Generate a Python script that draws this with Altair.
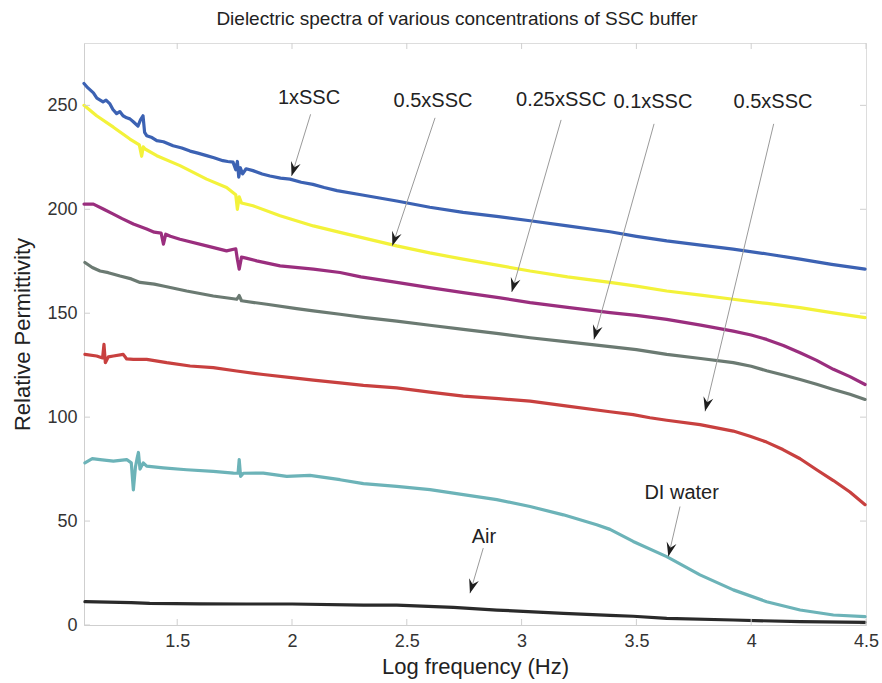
import altair as alt
import pandas as pd

# ---------------- data ----------------
series_names = ["1xSSC", "0.5xSSC", "0.25xSSC", "0.1xSSC", "0.05xSSC", "DI water", "Air"]
series_colors = ["#3c62b3", "#f3f23a", "#9a2e7e", "#6b7a72", "#c8403f", "#6cb3b8", "#2a2a2a"]

blue_x = [1.094, 1.11, 1.135, 1.15, 1.177, 1.19, 1.207, 1.22, 1.236, 1.25, 1.264, 1.28, 1.294, 1.31, 1.329, 1.340, 1.351, 1.358, 1.367, 1.39,
          1.411, 1.44, 1.482, 1.52, 1.556, 1.59, 1.628, 1.66, 1.699, 1.72, 1.743, 1.755, 1.762, 1.768, 1.775, 1.785, 1.80, 1.830, 1.87, 1.904,
          1.95, 1.991, 2.04, 2.091, 2.14, 2.196, 2.3, 2.456, 2.6, 2.745, 2.9, 3.037, 3.2, 3.385, 3.5, 3.632, 3.78, 3.921, 4.07, 4.213, 4.35, 4.496]
blue_y = [260.5, 258.5, 256, 253.5, 251.7, 252.5, 250.7, 248, 246, 247, 245, 244, 243.5, 242, 240, 243, 245, 237, 235.4, 234.5,
          233, 232.5, 230.6, 229.5, 228, 227, 225.8, 224.8, 223.4, 223, 222.7, 219, 223, 215.5, 220, 217, 219.5, 218.6, 217, 216,
          215, 214.5, 213, 212, 210.5, 209, 207, 204, 201, 198.5, 196.5, 194.5, 192, 189.2, 187, 184.8, 182.8, 180.8, 178.5, 176, 173.5, 171.2]

yellow_x = [1.094, 1.149, 1.222, 1.294, 1.335, 1.345, 1.352, 1.36, 1.411, 1.512, 1.628, 1.715, 1.755, 1.762, 1.770, 1.780, 1.830, 1.948,
            2.093, 2.209, 2.3, 2.456, 2.6, 2.745, 2.9, 3.037, 3.2, 3.385, 3.5, 3.632, 3.78, 3.921, 4.07, 4.213, 4.35, 4.496]
yellow_y = [250, 245, 239.5, 233.8, 231, 225.5, 230, 229, 225.8, 221, 214.5, 210.5, 207, 200, 206, 203, 201.7, 196.9,
            192, 188.9, 186.5, 182.4, 179, 176, 173, 170.3, 167.5, 164.8, 163, 160.7, 158.7, 156.7, 154.7, 152.7, 150.3, 147.9]

purple_x = [1.094, 1.135, 1.18, 1.222, 1.26, 1.309, 1.367, 1.40, 1.43, 1.44, 1.45, 1.47, 1.512, 1.628, 1.715, 1.755, 1.762, 1.770, 1.780, 1.80,
            1.846, 1.948, 2.093, 2.209, 2.3, 2.456, 2.6, 2.746, 2.9, 3.037, 3.2, 3.385, 3.5, 3.632, 3.78, 3.922, 4.0, 4.067, 4.14, 4.213,
            4.285, 4.358, 4.43, 4.496]
purple_y = [202.5, 202.5, 200, 197.7, 195.5, 192.9, 190.5, 189, 188.5, 183.2, 188, 187, 185.6, 182.4, 180, 181, 176, 171.2, 177, 176.5,
            175.2, 172.8, 171.2, 169.6, 167.5, 164.8, 162.3, 159.9, 157.5, 155.1, 152.8, 150.3, 149, 147, 144.3, 141.4, 139.5, 137.4, 134.5, 131,
            127.3, 123, 119.5, 115.7]

grey_x = [1.098, 1.13, 1.164, 1.20, 1.251, 1.30, 1.338, 1.40, 1.439, 1.541, 1.657, 1.760, 1.770, 1.780, 1.890, 2.020, 2.093, 2.209, 2.311, 2.456,
          2.6, 2.746, 2.9, 3.037, 3.2, 3.385, 3.5, 3.632, 3.78, 3.922, 4.0, 4.067, 4.14, 4.213, 4.285, 4.358, 4.43, 4.496]
grey_y = [174.4, 172, 170.3, 169.5, 167.9, 166.5, 164.8, 164, 163.1, 160.7, 158.3, 156.7, 158.5, 156, 154.3, 152.2, 151.1, 149.5, 148, 146.2,
          144.2, 142.2, 140.2, 138.2, 136.2, 133.9, 132.5, 130.2, 128.2, 126.2, 124.5, 122.3, 120.3, 118.1, 115.8, 113.3, 111, 108.5]

red_x = [1.098, 1.149, 1.175, 1.181, 1.187, 1.20, 1.222, 1.265, 1.28, 1.309, 1.367, 1.454, 1.556, 1.657, 1.759, 1.875, 2.006, 2.093, 2.209, 2.311,
         2.456, 2.6, 2.746, 2.9, 3.037, 3.2, 3.385, 3.486, 3.559, 3.632, 3.777, 3.922, 3.995, 4.067, 4.138, 4.213, 4.285, 4.358, 4.43, 4.496]
red_y = [130.2, 129.4, 128.5, 135, 126.2, 129, 129.4, 130.2, 128, 127.8, 127.8, 126.2, 124.6, 123.8, 122.2, 120.5, 118.9, 117.8, 116.5, 115.3,
         114.1, 112, 110.1, 108.9, 107.7, 105.3, 102.6, 101.2, 99.7, 98.5, 96.4, 93.3, 90.8, 88, 84.4, 80, 74.7, 69.5, 64, 57.9]

teal_x = [1.098, 1.13, 1.164, 1.222, 1.280, 1.30, 1.309, 1.318, 1.325, 1.331, 1.338, 1.352, 1.367, 1.439, 1.541, 1.657, 1.745, 1.765, 1.770, 1.776,
          1.788, 1.875, 1.977, 2.078, 2.209, 2.311, 2.456, 2.601, 2.746, 2.892, 3.037, 3.182, 3.327, 3.385, 3.486, 3.632, 3.777, 3.922, 4.067, 4.213,
          4.358, 4.496]
teal_y = [78, 80, 79.6, 78.8, 79.6, 78, 65, 76, 80, 83, 75, 78, 76.4, 75.6, 74.7, 73.9, 73.1, 73, 79.6, 71.5,
          73, 73.1, 71.5, 72, 69.9, 68, 66.7, 65.1, 62.7, 60.3, 57, 53, 48.2, 46, 40.2, 32.9, 24.1, 16.9, 11.2, 7.2,
          4.8, 4]

air_x = [1.098, 1.30, 1.38, 1.6, 1.8, 2.0, 2.311, 2.456, 2.703, 2.892, 3.182, 3.385, 3.486, 3.632, 3.922, 4.213, 4.496]
air_y = [11.2, 10.8, 10.4, 10.2, 10.1, 10.1, 9.6, 9.6, 8.5, 7.2, 5.6, 4.6, 4.2, 3.2, 2.4, 1.6, 1.3]

# annotations: label text, label position, leader start, arrow tip, arrow angle
ann_text = ["1xSSC", "0.5xSSC", "0.25xSSC", "0.1xSSC", "0.5xSSC", "DI water", "Air"]
ann_tx = [2.074, 2.614, 3.172, 3.572, 4.095, 3.697, 2.836]
ann_ty = [253.6, 252.2, 252.7, 251.7, 251.7, 63.6, 42.4]
ann_sx = [2.081, 2.623, 3.172, 3.577, 4.098, 3.690, 2.833]
ann_sy = [245.7, 244.0, 243.0, 241.1, 241.1, 57.0, 37.0]
ann_ex = [1.998, 2.437, 2.957, 3.315, 3.799, 3.639, 2.775]
ann_ey = [216.0, 182.4, 160.2, 137.4, 102.8, 32.9, 15.3]
ann_ang = [17.4, 18.5, 16.0, 15.6, 13.5, 13.2, 16.5]

x_ticks = [1.5, 2, 2.5, 3, 3.5, 4, 4.5]
y_ticks = [0, 50, 100, 150, 200, 250]

# ---------------- tables ----------------
all_x = [blue_x, yellow_x, purple_x, grey_x, red_x, teal_x, air_x]
all_y = [blue_y, yellow_y, purple_y, grey_y, red_y, teal_y, air_y]
rows = []
for name, xs, ys in zip(series_names, all_x, all_y):
    for i, (xv, yv) in enumerate(zip(xs, ys)):
        rows.append({"series": name, "i": i, "x": xv, "y": yv})
df = pd.DataFrame(rows)

ann = pd.DataFrame({"text": ann_text, "tx": ann_tx, "ty": ann_ty, "sx": ann_sx, "sy": ann_sy,
                    "ex": ann_ex, "ey": ann_ey, "ang": ann_ang})
xt = pd.DataFrame({"v": x_ticks})
yt = pd.DataFrame({"v": y_ticks})

W, H = 782, 582
FONT = "Liberation Sans"
xscale = alt.Scale(domain=[1.094, 4.5], nice=False, zero=False)
yscale = alt.Scale(domain=[0, 280], nice=False, zero=False)

lines = alt.Chart(df).mark_line(strokeWidth=3.2, strokeJoin="round", strokeCap="round").encode(
    x=alt.X("x:Q", scale=xscale,
            axis=alt.Axis(values=x_ticks, format="~g", title="Log frequency (Hz)", ticks=False,
                          labelFlush=False, labelOverlap=False, labelPadding=7, labelFontSize=18,
                          labelFont=FONT, labelColor="#333333", domainColor="#cfcfcf",
                          titleFont=FONT, titleFontSize=22, titleFontWeight="normal", titleColor="#222222",
                          titleX=W / 2, titleY=41, titleBaseline="middle", titleAlign="center", grid=False)),
    y=alt.Y("y:Q", scale=yscale,
            axis=alt.Axis(values=y_ticks, title="Relative Permittivity", ticks=False,
                          labelPadding=7, labelFontSize=18, labelFont=FONT, labelColor="#333333",
                          domainColor="#cfcfcf", titleFont=FONT, titleFontSize=22, titleFontWeight="normal",
                          titleColor="#222222", titleAngle=270, titleX=-62, titleY=291,
                          titleBaseline="middle", titleAlign="center", grid=False)),
    color=alt.Color("series:N", scale=alt.Scale(domain=series_names, range=series_colors), legend=None),
    detail="series:N",
    order="i:Q",
)

tick_col = "#cfcfcf"
xticks_bottom = alt.Chart(xt).mark_rule(color=tick_col, strokeWidth=1).encode(
    x=alt.X("v:Q", scale=xscale), y=alt.value(H), y2=alt.value(H - 6))
xticks_top = alt.Chart(xt).mark_rule(color=tick_col, strokeWidth=1).encode(
    x=alt.X("v:Q", scale=xscale), y=alt.value(0), y2=alt.value(6))
yticks_left = alt.Chart(yt).mark_rule(color=tick_col, strokeWidth=1).encode(
    y=alt.Y("v:Q", scale=yscale), x=alt.value(0), x2=alt.value(6))
yticks_right = alt.Chart(yt).mark_rule(color=tick_col, strokeWidth=1).encode(
    y=alt.Y("v:Q", scale=yscale), x=alt.value(W), x2=alt.value(W - 6))

leaders = alt.Chart(ann).mark_rule(color="#9a9a9a", strokeWidth=1).encode(
    x=alt.X("sx:Q", scale=xscale), y=alt.Y("sy:Q", scale=yscale),
    x2="ex:Q", y2="ey:Q")

arrow_path = "M0,0 L-0.6,-1.7 L0,-1.1 L0.6,-1.7 Z"
heads = alt.Chart(ann).mark_point(shape=arrow_path, filled=True, color="#1e1e1e", opacity=1, size=280).encode(
    x=alt.X("ex:Q", scale=xscale), y=alt.Y("ey:Q", scale=yscale),
    angle=alt.Angle("ang:Q", scale=None))

labels = alt.Chart(ann).mark_text(font=FONT, fontSize=20, color="#222222", baseline="middle", align="center").encode(
    x=alt.X("tx:Q", scale=xscale), y=alt.Y("ty:Q", scale=yscale), text="text:N")

chart = alt.layer(lines, xticks_bottom, xticks_top, yticks_left, yticks_right, leaders, heads, labels).properties(
    width=W, height=H,
    title=alt.TitleParams("Dielectric spectra of various concentrations of SSC buffer", font=FONT, fontSize=19,
                          fontWeight="normal", color="#222222", anchor="middle", dx=-18, offset=14),
    autosize=alt.AutoSizeParams(type="none"),
    padding={"left": 84, "top": 43, "right": 16, "bottom": 58},
).configure_view(stroke="#d4d4d4", strokeWidth=1).configure(background="white")

chart.save("out.html", embed_options={"renderer": "svg", "actions": False})
